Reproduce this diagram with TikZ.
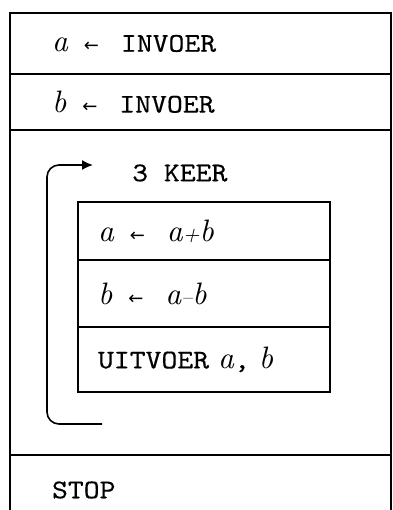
\documentclass[tikz,border=0pt]{standalone}
\usepackage{fontspec}
\setmonofont{lmmono10-regular.otf}[FakeStretch=1.12,FakeBold=0.4]
\newfontfamily\varfont{lmroman10-italic.otf}
\newfontfamily\pijlfont{DejaVu Sans}
\usetikzlibrary{positioning}
\usetikzlibrary{arrows.meta}
\newcommand{\krijgt}{\hspace{7pt}{\pijlfont\fontsize{18}{20}\selectfont ←}\hspace{13pt}}
\newcommand{\var}[1]{{\varfont\fontsize{31}{34}\selectfont #1}}
\newcommand{\klein}[1]{{\fontsize{22}{24}\selectfont #1}}

\begin{document}
\begin{tikzpicture}[
    x=1pt, y=-1pt,
    font=\fontsize{27}{32}\selectfont\ttfamily,
    rij/.style={rectangle, draw, line width=1.2pt, outer sep=0pt, align=left, inner ysep=0pt},
    buiten/.style={rij, text width=297pt, inner xsep=42pt},
    binnen/.style={rij, text width=212pt, inner xsep=20pt},
    lus/.style={line width=1.6pt, rounded corners=12pt, -{Latex[length=11pt,width=10pt]}}
]
\useasboundingbox (0,0) rectangle (392,510);

% Hoofdschema
\node[buiten, minimum height=61pt, anchor=north west] (invoera) at (10,13) {\var{a} \krijgt{} INVOER};
\node[buiten, minimum height=56pt] (invoerb) [below=0pt of invoera] {\var{b} \krijgt{} INVOER};
\node[buiten, minimum height=325pt] (herhaal) [below=0pt of invoerb] {};
\node[buiten, minimum height=70pt] (stop) [below=0pt of herhaal] {STOP};

% Herhaling
\node[anchor=west, inner sep=0pt] (keer) at (132,173) {3 KEER};
\node[binnen, minimum height=58pt, anchor=north west] (stapa) at (78,202) {\var{a} \krijgt{} \var{a\klein{+}b}};
\node[binnen, minimum height=67pt] (stapb) [below=0pt of stapa] {\var{b} \krijgt{} \var{a\klein{–}b}};
\node[binnen, minimum height=65pt] (uitvoer) [below=0pt of stapb] {UITVOER \var{a}, \var{b}};

% Lus
\coordinate (lusstart) at (102,424);
\coordinate (luseind) at (93,165);
\draw[lus] (lusstart) -| (47,165) -- (luseind);

\end{tikzpicture}
\end{document}
